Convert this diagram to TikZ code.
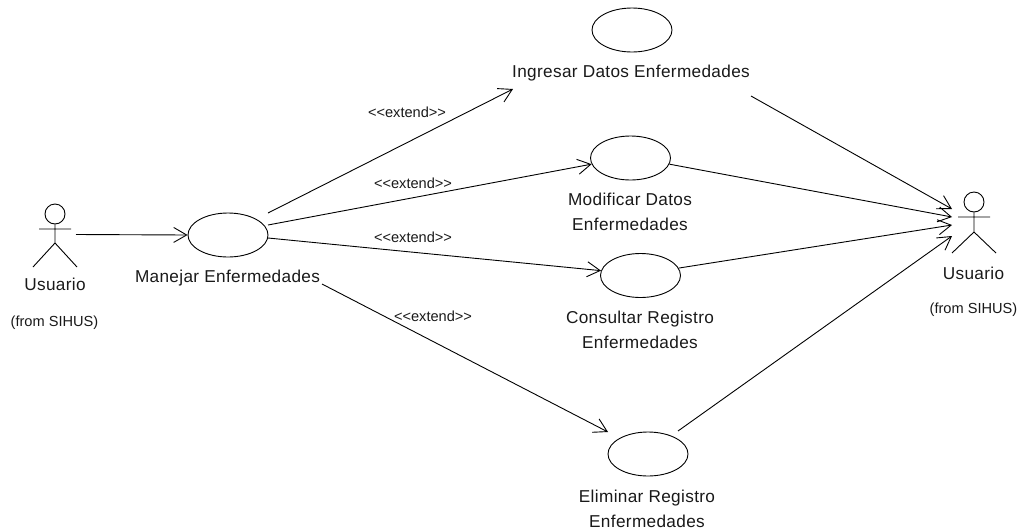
\documentclass[tikz,border=0pt]{standalone}
\usepackage{fontspec}
\setmainfont{Liberation Sans}
\newfontfamily\lblfont[LetterSpace=2]{Liberation Sans}
\usetikzlibrary{arrows.meta,shapes.geometric}
\tikzset{
 usecase/.style={draw,ellipse,minimum width=80pt,minimum height=44pt,inner sep=0pt,line width=.9pt},
 lbl/.style={inner sep=0pt,font=\lblfont\fontsize{17.2}{25}\selectfont,align=center,text=black!90},
 small/.style={inner sep=0pt,font=\fontsize{14.6}{16}\selectfont,text=black!90},
 conn/.style={line width=.9pt,-{Straight Barb[length=13pt,width=15pt,line width=.9pt]}},
 limb/.style={line width=.9pt},
 head/.style={draw,circle,line width=.9pt,minimum size=20pt,inner sep=0pt},
}
\begin{document}
\begin{tikzpicture}[x=1pt,y=-1pt]
\useasboundingbox (0,0) rectangle (1029,531);
\node[usecase] (man) at (228,235) {};
\node[usecase] (ing) at (632,30) {};
\node[usecase] (mod) at (630.5,158) {};
\node[usecase] (con) at (640.5,275.5) {};
\node[usecase] (eli) at (648,454) {};
\node[lbl] (tman) at (227.5,278) {Manejar Enfermedades};
\node[lbl] (ting) at (631,73) {Ingresar Datos Enfermedades};
\node[lbl] (tmod) at (630,212) {Modificar Datos\\Enfermedades};
\node[lbl] (tcon) at (640,330) {Consultar Registro\\Enfermedades};
\node[lbl] (teli) at (647,508.5) {Eliminar Registro\\Enfermedades};
\node[lbl] (tu1) at (55,284) {Usuario};
\node[lbl] (tu2) at (973.5,273) {Usuario};
\node[small] (f1) at (54.5,323) {(from SIHUS)};
\node[small] (f2) at (973.5,310) {(from SIHUS)};
\node[small] (e1) at (407,112) {<{}<extend>{}>};
\node[small] (e2) at (413,183) {<{}<extend>{}>};
\node[small] (e3) at (413,237) {<{}<extend>{}>};
\node[small] (e4) at (433,316) {<{}<extend>{}>};
% actors
\node[head] (h1) at (55,214) {};
\node[head] (h2) at (974,202) {};
\coordinate (h1l) at (39,229); \coordinate (h1r) at (71,229);
\coordinate (b1) at (55,243); \coordinate (l1) at (33,267); \coordinate (r1) at (77,267);
\coordinate (h2l) at (958,217); \coordinate (h2r) at (990,217);
\coordinate (b2) at (974,232); \coordinate (l2) at (952,253); \coordinate (r2) at (996,253);
\draw[limb] (h1) -- (b1) (h1l) -- (h1r) (l1) -- (b1) -- (r1);
\draw[limb] (h2) -- (b2) (h2l) -- (h2r) (l2) -- (b2) -- (r2);
% connectors
\coordinate (a0) at (76,234.5);
\draw[conn] (a0) -- (man.west);
\coordinate (s1) at (268,213); \coordinate (d1) at (513,89);
\draw[conn] (s1) -- (d1);
\coordinate (s2) at (268,225);
\draw[conn] (s2) -- (mod.189);
\coordinate (s3) at (268,238);
\draw[conn] (s3) -- (con.173);
\coordinate (s4) at (322,284); \coordinate (d4) at (608,432);
\draw[conn] (s4) -- (d4);
\coordinate (s5) at (751,96); \coordinate (d5) at (952,209);
\draw[conn] (s5) -- (d5);
\coordinate (d6) at (952,217);
\draw[conn] (mod.351) -- (d6);
\coordinate (d7) at (952,225);
\draw[conn] (con.11) -- (d7);
\coordinate (s8) at (678,431); \coordinate (d8) at (952,236);
\draw[conn] (s8) -- (d8);
\end{tikzpicture}
\end{document}
